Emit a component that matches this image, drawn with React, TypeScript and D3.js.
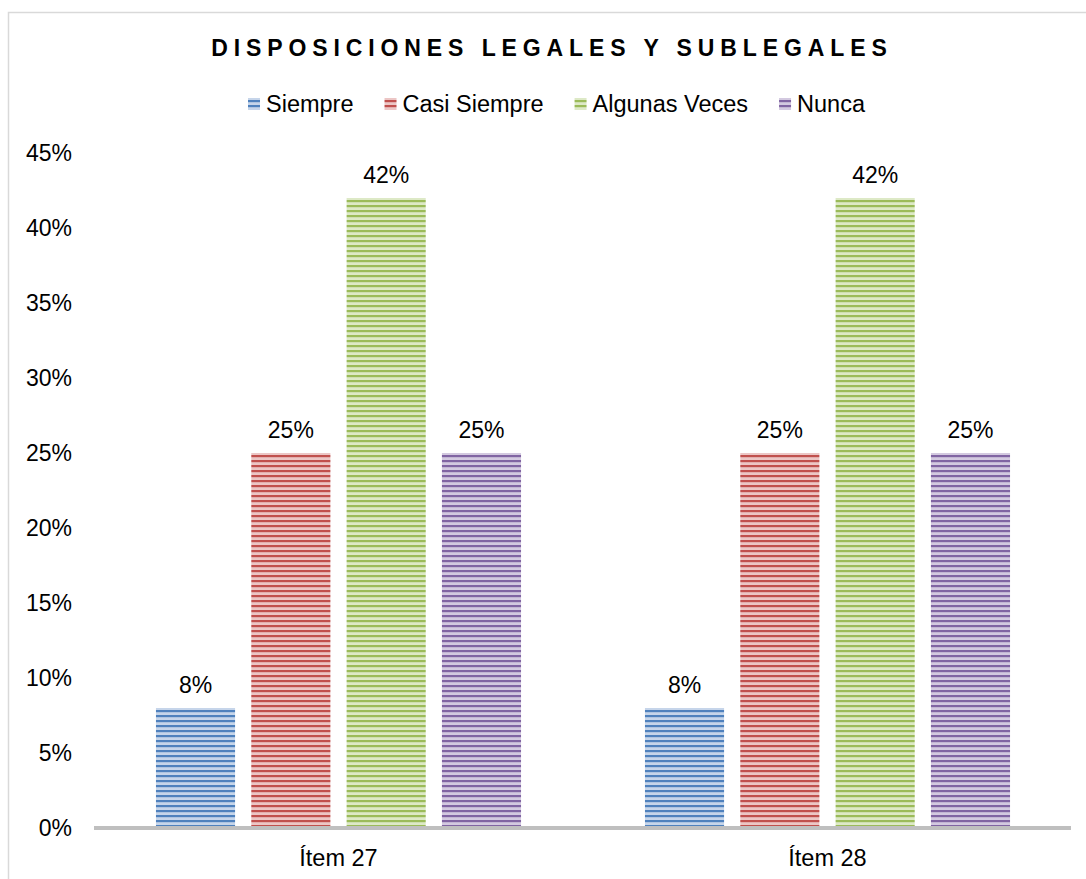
import React, { useEffect, useRef } from 'react'
import * as d3 from 'd3'

// categories and series
const items = ['Ítem 27', 'Ítem 28']
const series = ['Siempre', 'Casi Siempre', 'Algunas Veces', 'Nunca']
const siempre = [0.08, 0.08]
const casiSiempre = [0.25, 0.25]
const algunasVeces = [0.42, 0.42]
const nunca = [0.25, 0.25]
const yTicks = [0, 0.05, 0.1, 0.15, 0.2, 0.25, 0.3, 0.35, 0.4, 0.45]
const title = 'DISPOSICIONES LEGALES Y SUBLEGALES'

const darkColors = ['#4f81bd', '#c0504d', '#9bbb59', '#8064a2']
const lightColors = ['#c6d5ea', '#ecc6c5', '#dde9c6', '#d3c9e0']

export default function App() {
	const ref = useRef<SVGSVGElement>(null)

	const width = 1086
	const height = 879
	const font = '"Liberation Sans", Arial, sans-serif'

	useEffect(() => {
		const svg = d3.select(ref.current)
		svg.selectAll('*').remove()

		const values = [siempre, casiSiempre, algunasVeces, nunca]
		const data = items.map((item, i) => ({
			item,
			vals: series.map((s, j) => ({ key: s, idx: j, value: values[j][i] })),
		}))

		// striped patterns
		const defs = svg.append('defs')
		series.forEach((_, j) => {
			const p = defs
				.append('pattern')
				.attr('id', 'stripe-' + j)
				.attr('patternUnits', 'userSpaceOnUse')
				.attr('width', 10)
				.attr('height', 5)
			p.append('rect').attr('width', 10).attr('height', 5).attr('fill', lightColors[j])
			p.append('rect').attr('y', 0).attr('width', 10).attr('height', 2.2).attr('fill', darkColors[j])
		})

		// outer border
		svg
			.append('rect')
			.attr('x', 8.5)
			.attr('y', 12.5)
			.attr('width', 1200)
			.attr('height', 1000)
			.attr('fill', '#fff')
			.attr('stroke', '#d9d9d9')
			.attr('stroke-width', 1.5)

		const x0 = d3.scaleBand().domain(items).range([94, 1072])
		const x1 = d3
			.scaleBand()
			.domain(series)
			.range([0, x0.bandwidth()])
			.paddingInner(0.17)
			.paddingOuter(0.65)
		const y = d3.scaleLinear().domain([0, 0.45]).range([828, 153])

		// title
		const spacing = 5.9
		svg
			.append('text')
			.attr('x', 549 + spacing / 2)
			.attr('y', 56)
			.attr('text-anchor', 'middle')
			.style('font-family', font)
			.style('font-weight', 'bold')
			.style('font-size', '23px')
			.style('letter-spacing', spacing + 'px')
			.style('fill', '#000')
			.text(title)

		// legend
		const legend = svg.append('g').attr('transform', 'translate(248, 0)')
		let lx = 0
		series.forEach((s, j) => {
			legend
				.append('rect')
				.attr('x', lx)
				.attr('y', 98)
				.attr('width', 12)
				.attr('height', 12)
				.attr('fill', `url(#stripe-${j})`)
			const t = legend
				.append('text')
				.attr('x', lx + 18)
				.attr('y', 112)
				.style('font-family', font)
				.style('font-size', '23.5px')
				.style('fill', '#000')
				.text(s)
			const w = (t.node() as SVGTextElement).getComputedTextLength()
			lx += 18 + w + 31
		})

		// y axis labels
		svg
			.append('g')
			.selectAll('text')
			.data(yTicks)
			.enter()
			.append('text')
			.attr('x', 72)
			.attr('y', (d) => y(d))
			.attr('dy', '0.36em')
			.attr('text-anchor', 'end')
			.style('font-family', font)
			.style('font-size', '23px')
			.style('fill', '#000')
			.text((d) => d3.format('.0%')(d))

		// bars
		const groups = svg
			.append('g')
			.selectAll('g')
			.data(data)
			.enter()
			.append('g')
			.attr('transform', (d) => `translate(${x0(d.item)}, 0)`)

		groups
			.selectAll('rect')
			.data((d) => d.vals)
			.enter()
			.append('rect')
			.attr('x', (d) => x1(d.key)!)
			.attr('y', (d) => y(d.value))
			.attr('width', x1.bandwidth())
			.attr('height', (d) => y(0) - y(d.value))
			.attr('fill', (d) => `url(#stripe-${d.idx})`)

		groups
			.selectAll('text')
			.data((d) => d.vals)
			.enter()
			.append('text')
			.attr('x', (d) => x1(d.key)! + x1.bandwidth() / 2)
			.attr('y', (d) => y(d.value) - 15)
			.attr('text-anchor', 'middle')
			.style('font-family', font)
			.style('font-size', '23px')
			.style('fill', '#000')
			.text((d) => d3.format('.0%')(d.value))

		// x axis line
		svg
			.append('line')
			.attr('x1', x0.range()[0])
			.attr('x2', 1071)
			.attr('y1', y(0))
			.attr('y2', y(0))
			.attr('stroke', '#bfbfbf')
			.attr('stroke-width', 4)

		// category labels
		svg
			.append('g')
			.selectAll('text')
			.data(items)
			.enter()
			.append('text')
			.attr('x', (d) => x0(d)! + x0.bandwidth() / 2)
			.attr('y', 866)
			.attr('text-anchor', 'middle')
			.style('font-family', font)
			.style('font-size', '23.5px')
			.style('fill', '#000')
			.text((d) => d)
	}, [])

	return (
		<svg
			ref={ref}
			width={width}
			height={height}
			style={{ position: 'absolute', left: 0, top: 0, display: 'block', background: '#fff' }}
		/>
	)
}
